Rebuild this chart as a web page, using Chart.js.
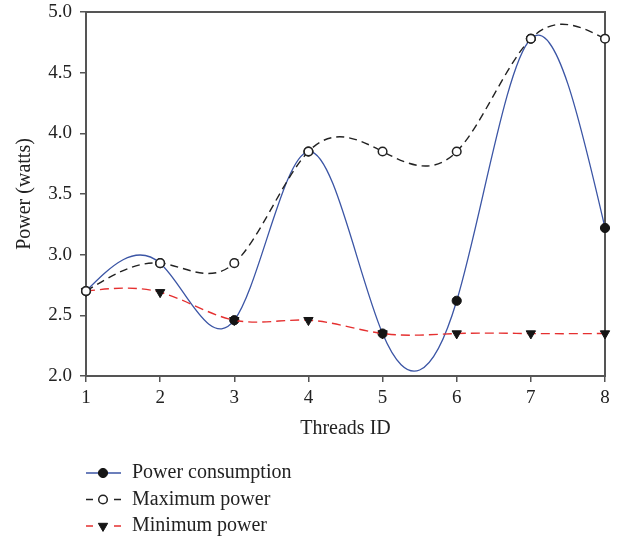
<!DOCTYPE html>
<html>
<head>
<meta charset="utf-8">
<script src="https://cdn.jsdelivr.net/npm/chart.js@4.4.0/dist/chart.umd.min.js"></script>
<style>
  html, body { margin: 0; padding: 0; background: #fff; }
</style>
</head>
<body>
<canvas id="powerChart" width="624" height="540"></canvas>
<script>
const threads = ['1', '2', '3', '4', '5', '6', '7', '8'];
const powerConsumption = [2.70, 2.93, 2.46, 3.85, 2.35, 2.62, 4.78, 3.22];
const maximumPower = [2.70, 2.93, 2.93, 3.85, 3.85, 3.85, 4.78, 4.78];
const minimumPower = [2.70, 2.69, 2.46, 2.46, 2.35, 2.35, 2.35, 2.35];
const yTicks = [2.0, 2.5, 3.0, 3.5, 4.0, 4.5, 5.0];

const axisColor = '#555';
Chart.defaults.font.family = "'Liberation Serif', 'Times New Roman', serif";
Chart.defaults.color = '#222';

// natural cubic spline through the points, written into chart.js bezier control points
function naturalSpline(points) {
  const n = points.length;
  if (n < 3) return;
  const x = points.map(p => p.x), y = points.map(p => p.y);
  const h = [];
  for (let i = 0; i < n - 1; i++) h.push(x[i + 1] - x[i]);
  const M = new Array(n).fill(0);
  const a = [], b = [], c = [], d = [];
  for (let i = 1; i < n - 1; i++) {
    a.push(h[i - 1]);
    b.push(2 * (h[i - 1] + h[i]));
    c.push(h[i]);
    d.push(6 * ((y[i + 1] - y[i]) / h[i] - (y[i] - y[i - 1]) / h[i - 1]));
  }
  const m = b.length;
  for (let i = 1; i < m; i++) {
    const w = a[i] / b[i - 1];
    b[i] -= w * c[i - 1];
    d[i] -= w * d[i - 1];
  }
  const sol = new Array(m);
  sol[m - 1] = d[m - 1] / b[m - 1];
  for (let i = m - 2; i >= 0; i--) sol[i] = (d[i] - c[i] * sol[i + 1]) / b[i];
  for (let i = 0; i < m; i++) M[i + 1] = sol[i];

  const s = [];
  for (let i = 0; i < n - 1; i++) {
    s.push((y[i + 1] - y[i]) / h[i] - h[i] * (2 * M[i] + M[i + 1]) / 6);
  }
  const hl = h[n - 2];
  s.push((y[n - 1] - y[n - 2]) / hl + hl * (M[n - 2] + 2 * M[n - 1]) / 6);

  points.forEach((p, i) => {
    const hb = i > 0 ? h[i - 1] : h[0];
    const ha = i < n - 1 ? h[i] : h[n - 2];
    p.cp1x = p.x - hb / 3;
    p.cp1y = p.y - s[i] * hb / 3;
    p.cp2x = p.x + ha / 3;
    p.cp2y = p.y + s[i] * ha / 3;
  });
}

const splinePlugin = {
  id: 'splineCurves',
  afterDatasetsUpdate(chart) {
    chart.getSortedVisibleDatasetMetas().forEach(meta => {
      meta.dataset.updateControlPoints = function () { naturalSpline(this.points); };
    });
  }
};

const framePlugin = {
  id: 'frame',
  beforeDatasetsDraw(chart) {
    const { ctx, chartArea } = chart;
    ctx.save();
    ctx.strokeStyle = axisColor;
    ctx.lineWidth = 2;
    ctx.strokeRect(chartArea.left, chartArea.top, chartArea.right - chartArea.left, chartArea.bottom - chartArea.top);
    ctx.restore();
  }
};

function drawMarker(ctx, ds, x, y) {
  ctx.save();
  ctx.fillStyle = ds.pointBackgroundColor;
  ctx.strokeStyle = ds.pointBorderColor;
  ctx.lineWidth = ds.pointBorderWidth;
  ctx.beginPath();
  if (ds.pointStyle === 'triangle') {
    const r = ds.pointRadius;
    ctx.moveTo(x, y + r);
    ctx.lineTo(x - r * 0.866, y - r * 0.5);
    ctx.lineTo(x + r * 0.866, y - r * 0.5);
    ctx.closePath();
  } else {
    ctx.arc(x, y, ds.pointRadius, 0, Math.PI * 2);
  }
  ctx.fill();
  ctx.stroke();
  ctx.restore();
}

const legendPlugin = {
  id: 'sideLegend',
  afterDraw(chart) {
    const ctx = chart.ctx;
    const left = 86, rowY = 473, rowGap = 26.5;
    chart.data.datasets.forEach((ds, i) => {
      const y = rowY + i * rowGap;
      ctx.save();
      ctx.strokeStyle = ds.borderColor;
      ctx.lineWidth = ds.borderWidth;
      ctx.beginPath();
      if (ds.borderDash) {
        ctx.moveTo(left, y); ctx.lineTo(left + 7, y);
        ctx.moveTo(left + 28, y); ctx.lineTo(left + 35, y);
      } else {
        ctx.moveTo(left, y); ctx.lineTo(left + 35, y);
      }
      ctx.stroke();
      ctx.restore();
      drawMarker(ctx, ds, left + 17, y);
      ctx.save();
      ctx.fillStyle = '#222';
      ctx.font = "20px 'Liberation Serif', serif";
      ctx.textBaseline = 'middle';
      ctx.fillText(ds.label, left + 46, y);
      ctx.restore();
    });
  }
};

new Chart(document.getElementById('powerChart'), {
  type: 'line',
  data: {
    labels: threads,
    datasets: [
      {
        label: 'Power consumption',
        data: powerConsumption,
        borderColor: '#3b55a5',
        borderWidth: 1.3,
        pointStyle: 'circle',
        pointRadius: 4.6,
        pointBackgroundColor: '#151515',
        pointBorderColor: '#151515',
        pointBorderWidth: 1,
        tension: 0.4,
        clip: false,
        order: 3,
      },
      {
        label: 'Maximum power',
        data: maximumPower,
        borderColor: '#222',
        borderDash: [8, 5],
        borderWidth: 1.4,
        pointStyle: 'circle',
        pointRadius: 4.3,
        pointBackgroundColor: '#fff',
        pointBorderColor: '#222',
        pointBorderWidth: 1.5,
        tension: 0.4,
        clip: false,
        order: 1,
      },
      {
        label: 'Minimum power',
        data: minimumPower,
        borderColor: '#e53030',
        borderDash: [9, 5],
        borderWidth: 1.4,
        pointStyle: 'triangle',
        pointRotation: 180,
        pointRadius: 5.4,
        pointBackgroundColor: '#151515',
        pointBorderColor: '#151515',
        pointBorderWidth: 1,
        tension: 0.4,
        clip: false,
        order: 2,
      },
    ],
  },
  options: {
    responsive: false,
    animation: false,
    layout: { padding: { left: 0, top: 12, right: 19, bottom: 94 } },
    plugins: {
      legend: { display: false },
      tooltip: { enabled: false },
    },
    scales: {
      x: {
        grid: { drawOnChartArea: false, drawTicks: true, tickLength: 6, color: axisColor, lineWidth: 1.5 },
        border: { display: true, color: axisColor, width: 2 },
        ticks: { font: { size: 19 }, color: '#222', padding: 5, maxRotation: 0 },
        title: { display: true, text: 'Threads ID', font: { size: 20 }, color: '#222', padding: { top: 0, bottom: 5 } },
        afterFit: (scale) => { scale.height = 70; },
      },
      y: {
        min: 2,
        max: 5,
        grid: { drawOnChartArea: false, drawTicks: true, tickLength: 6, color: axisColor, lineWidth: 1.5 },
        border: { display: true, color: axisColor, width: 2 },
        ticks: { font: { size: 19 }, color: '#222', padding: 8, callback: (v) => Number(v).toFixed(1) },
        afterBuildTicks: (scale) => { scale.ticks = yTicks.map(v => ({ value: v })); },
        title: { display: true, text: 'Power (watts)', font: { size: 20 }, color: '#222', padding: { top: 13, bottom: 0 } },
        afterFit: (scale) => { scale.width = 86; scale.paddingTop = 0; scale.paddingBottom = 0; },
      },
    },
  },
  plugins: [splinePlugin, framePlugin, legendPlugin],
});
</script>
</body>
</html>
